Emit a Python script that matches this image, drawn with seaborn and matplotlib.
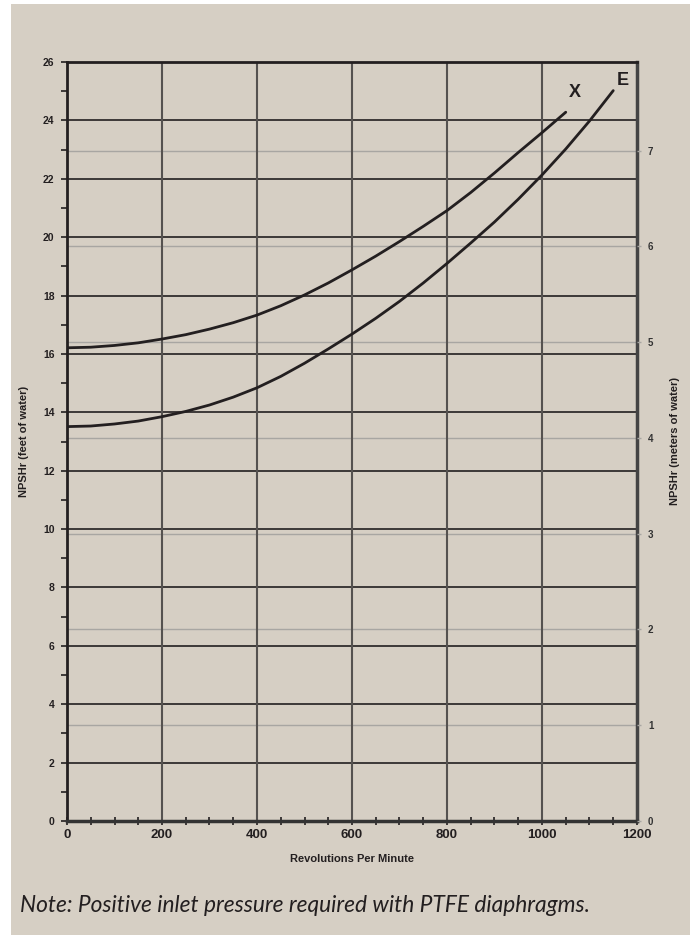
import matplotlib
matplotlib.use("Agg")
import matplotlib.pyplot as plt
import matplotlib.patches as mpatches
import numpy as np
import pandas as pd
import seaborn as sns

# ---- data ----
rpm_x = [0, 50, 100, 150, 200, 250, 300, 350, 400, 450, 500, 550, 600, 650, 700, 750,
         800, 850, 900, 950, 1000, 1050]
ft_x = [16.21, 16.23, 16.29, 16.38, 16.51, 16.66, 16.85, 17.07, 17.33, 17.65, 18.02, 18.43,
        18.88, 19.35, 19.85, 20.37, 20.91, 21.53, 22.20, 22.90, 23.58, 24.28]
rpm_e = [0, 50, 100, 150, 200, 250, 300, 350, 400, 450, 500, 550, 600, 650, 700, 750,
         800, 850, 900, 950, 1000, 1050, 1100, 1150]
ft_e = [13.51, 13.53, 13.60, 13.70, 13.85, 14.03, 14.25, 14.52, 14.84, 15.23, 15.68, 16.17,
        16.68, 17.22, 17.80, 18.43, 19.10, 19.80, 20.52, 21.30, 22.13, 23.02, 23.98, 25.02]
x_ticks = [0, 200, 400, 600, 800, 1000, 1200]
y_ticks = list(range(0, 27, 2))
m_ticks = list(range(0, 8))
FT_PER_M = 3.281

df = pd.concat([
    pd.DataFrame({"rpm": rpm_x, "ft": ft_x, "model": "X"}),
    pd.DataFrame({"rpm": rpm_e, "ft": ft_e, "model": "E"}),
])

sns.set_theme(style="white")
plt.rcParams["font.family"] = ["Liberation Sans", "DejaVu Sans"]

BG = "#d6cfc4"
INK = "#231f20"

fig = plt.figure(figsize=(6.97, 9.39), dpi=100, facecolor="white")
fig.patches.append(mpatches.Rectangle((11 / 697, 4 / 939), (690 - 11) / 697, (935 - 4) / 939,
                                      transform=fig.transFigure, facecolor=BG, edgecolor="none", zorder=-10))

ax = fig.add_axes([67 / 697, 1 - 821 / 939, (637 - 67) / 697, (821 - 62) / 939])
ax.set_facecolor(BG)

ax.set_xlim(0, 1200)
ax.set_ylim(0, 26)

# meter grid lines (light grey)
for m in m_ticks[1:]:
    ax.axhline(m * FT_PER_M, color="#a8a6a2", lw=1.0, zorder=1)
# feet grid lines
for y in y_ticks[1:-1]:
    ax.axhline(y, color=INK, lw=1.2, zorder=2)
# rpm grid lines
for x in x_ticks[1:-1]:
    ax.axvline(x, color="#555250", lw=1.5, zorder=2)

sns.lineplot(data=df, x="rpm", y="ft", hue="model", palette={"X": INK, "E": INK},
             lw=2.0, legend=False, ax=ax, zorder=5, sort=False, estimator=None)

ax.text(1069, 24.97, "X", fontsize=13, fontweight="bold", color=INK, ha="center", va="center")
ax.text(1170, 25.35, "E", fontsize=13, fontweight="bold", color=INK, ha="center", va="center")

ax.set_xticks(x_ticks)
ax.set_xticks(np.arange(0, 1201, 50), minor=True)
ax.set_yticks(y_ticks)
ax.set_yticks(np.arange(1, 26, 2), minor=True)
ax.set_xticklabels([str(v) for v in x_ticks], fontsize=9.5, fontweight="bold", color=INK)
ax.set_yticklabels([str(v) for v in y_ticks], fontsize=7.5, fontweight="bold", color=INK)
ax.tick_params(axis="x", which="both", direction="inout", length=6, width=1.2, color=INK, pad=3, bottom=True)
ax.tick_params(axis="y", which="both", direction="out", length=4, width=1.2, color=INK, pad=5, left=True)

ax.set_xlabel("Revolutions Per Minute", fontsize=8, fontweight="bold", color=INK, labelpad=9)
ax.set_ylabel("NPSHr (feet of water)", fontsize=8, fontweight="bold", color=INK, labelpad=10)

for side in ["left", "top"]:
    ax.spines[side].set_color(INK)
    ax.spines[side].set_linewidth(2.0)
ax.spines["bottom"].set_color("#333")
ax.spines["bottom"].set_linewidth(2.5)
ax.spines["right"].set_color("#444")
ax.spines["right"].set_linewidth(2.5)
for s in ax.spines.values():
    s.set_zorder(6)

ax2 = ax.twinx()
ax2.set_ylim(0, 26 / FT_PER_M)
ax2.set_yticks(m_ticks)
ax2.set_yticklabels([str(v) for v in m_ticks], fontsize=7, fontweight="bold", color="#333")
ax2.tick_params(axis="y", direction="out", length=3, width=1.0, color="#a8a6a2", pad=5, right=True)
ax2.set_ylabel("NPSHr (meters of water)", fontsize=8, fontweight="bold", color=INK, labelpad=12)
for s in ax2.spines.values():
    s.set_visible(False)

fig.text(20 / 697, 1 - 905 / 939, "Note: Positive inlet pressure required with PTFE diaphragms.",
         fontsize=16.4, style="italic", family=["Lato", "DejaVu Sans"], color=INK, ha="left", va="center")

fig.savefig("out.png", dpi=100, facecolor="white")
